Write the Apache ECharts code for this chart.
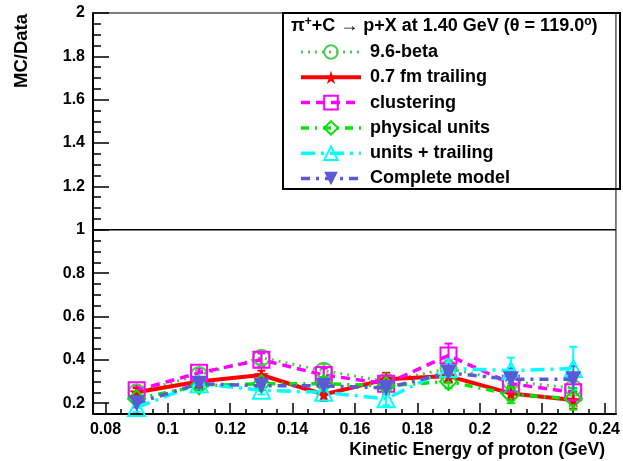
<!DOCTYPE html>
<html>
<head>
<meta charset="utf-8">
<script src="https://cdn.jsdelivr.net/npm/echarts@6/dist/echarts.min.js"></script>
<style>html,body{margin:0;padding:0;background:#fff}#c{width:623px;height:461px}</style>
</head>
<body>
<div id="c"></div>
<script>
// ---- data ----
var energies = [0.09, 0.11, 0.13, 0.15, 0.17, 0.19, 0.21, 0.23];
var beta96     = [0.25, 0.33, 0.41, 0.35, 0.30, 0.36, 0.30, 0.27];
var beta96Err  = [0.02, 0.02, 0.03, 0.03, 0.03, 0.04, 0.04, 0.05];
var trailing   = [0.25, 0.30, 0.33, 0.24, 0.31, 0.325, 0.245, 0.215];
var trailingErr= [0.02, 0.02, 0.02, 0.03, 0.03, 0.03, 0.03, 0.04];
var clustering = [0.26, 0.34, 0.40, 0.33, 0.29, 0.42, 0.29, 0.25];
var clusterErr = [0.02, 0.02, 0.03, 0.03, 0.03, 0.055, 0.04, 0.05];
var physUnits  = [0.22, 0.28, 0.29, 0.29, 0.28, 0.30, 0.24, 0.22];
var physErr    = [0.02, 0.02, 0.02, 0.03, 0.03, 0.03, 0.04, 0.05];
var unitsTrail = [0.18, 0.29, 0.26, 0.25, 0.22, 0.36, 0.35, 0.36];
var unitsErr   = [0.02, 0.02, 0.02, 0.03, 0.03, 0.04, 0.06, 0.10];
var complete   = [0.20, 0.29, 0.28, 0.28, 0.27, 0.34, 0.31, 0.31];
var completeErr= [0.02, 0.02, 0.02, 0.03, 0.03, 0.04, 0.05, 0.06];
var xMajor = [0.08, 0.10, 0.12, 0.14, 0.16, 0.18, 0.20, 0.22, 0.24];
var yMajor = [0.2, 0.4, 0.6, 0.8, 1.0, 1.2, 1.4, 1.6, 1.8, 2.0];
var xTitle = 'Kinetic Energy of proton (GeV)';
var yTitle = 'MC/Data';
var names = ['9.6-beta', '0.7 fm trailing', 'clustering', 'physical units', 'units + trailing', 'Complete model'];

var XMIN = 0.076, XMAX = 0.2437, YMIN = 0.15, YMAX = 2.0;
var xMinor = [], yMinor = [];
for (var i = 0; i <= 33; i++) { var v = +(0.08 + i * 0.005).toFixed(4); if (v <= XMAX) xMinor.push(v); }
for (var j = 0; j <= 37; j++) { var w = +(0.15 + j * 0.05).toFixed(4); if (w <= YMAX) yMinor.push(w); }

var FONT = '"Liberation Sans", Arial, Helvetica, sans-serif';
var star = 'path://M50,0 L61,35 L98,35 L68,57 L79,91 L50,70 L21,91 L32,57 L2,35 L39,35 Z';

function pts(ys) { return energies.map(function (x, k) { return [x, ys[k]]; }); }

function lineSeries(name, ys, color, dash, width, symbol, size, filled, z) {
  return {
    name: name, type: 'line', data: pts(ys), z: z,
    symbol: symbol, symbolSize: size, showSymbol: true,
    lineStyle: { color: color, width: width, type: dash },
    itemStyle: filled ? { color: color, borderColor: color, borderWidth: 0 }
                      : { color: 'rgba(255,255,255,0)', borderColor: color, borderWidth: 2 },
    emphasis: { disabled: true }, animation: false
  };
}
function errSeries(ys, es, color, z) {
  return {
    type: 'custom', z: z, animation: false, silent: true,
    data: energies.map(function (x, k) { return [x, ys[k], es[k]]; }),
    renderItem: function (params, api) {
      var x = api.value(0), y = api.value(1), e = api.value(2);
      var top = api.coord([x, y + e]), bot = api.coord([x, y - e]);
      var cap = 4;
      return { type: 'group', children: [
        { type: 'line', shape: { x1: top[0], y1: top[1], x2: bot[0], y2: bot[1] }, style: { stroke: color, lineWidth: 2 } },
        { type: 'line', shape: { x1: top[0] - cap, y1: top[1], x2: top[0] + cap, y2: top[1] }, style: { stroke: color, lineWidth: 2 } },
        { type: 'line', shape: { x1: bot[0] - cap, y1: bot[1], x2: bot[0] + cap, y2: bot[1] }, style: { stroke: color, lineWidth: 2 } }
      ]};
    }
  };
}

var cBeta = '#4dcc4d', cRed = '#ff0000', cMag = '#ff00ff', cGreen = '#00e600', cCyan = '#00ffff', cBlue = '#5a5ad8';
var widths = [3, 4, 3.5, 3.5, 3.5, 3.5];

var chart = echarts.init(document.getElementById('c'), null, { renderer: 'canvas' });
chart.setOption({
  animation: false,
  backgroundColor: '#fff',
  grid: { left: 93, right: 3, top: 13, bottom: 47, show: true, borderColor: '#000', borderWidth: 1, containLabel: false },
  xAxis: [
    { type: 'value', min: XMIN, max: XMAX, position: 'bottom',
      axisLine: { show: true, onZero: false, lineStyle: { color: '#000', width: 2 } },
      axisTick: { show: true, inside: true, length: 11, customValues: xMajor, lineStyle: { color: '#000', width: 1.5 } },
      axisLabel: { show: true, customValues: xMajor, margin: 8, color: '#000', fontFamily: FONT, fontWeight: 'bold', fontSize: 16,
        formatter: function (v) { return String(+(+v).toFixed(3)); } },
      splitLine: { show: false } },
    { type: 'value', min: XMIN, max: XMAX, position: 'bottom',
      axisLine: { show: false, onZero: false },
      axisTick: { show: true, inside: true, length: 5, customValues: xMinor, lineStyle: { color: '#000', width: 1.5 } },
      axisLabel: { show: false }, splitLine: { show: false } }
  ],
  yAxis: [
    { type: 'value', min: YMIN, max: YMAX, position: 'left',
      axisLine: { show: true, onZero: false, lineStyle: { color: '#000', width: 2 } },
      axisTick: { show: true, inside: true, length: 16, customValues: yMajor, lineStyle: { color: '#000', width: 1.5 } },
      axisLabel: { show: true, customValues: yMajor, margin: 8, color: '#000', fontFamily: FONT, fontWeight: 'bold', fontSize: 16,
        formatter: function (v) { return String(+(+v).toFixed(3)); } },
      splitLine: { show: false } },
    { type: 'value', min: YMIN, max: YMAX, position: 'left',
      axisLine: { show: false, onZero: false },
      axisTick: { show: true, inside: true, length: 8, customValues: yMinor, lineStyle: { color: '#000', width: 1.5 } },
      axisLabel: { show: false }, splitLine: { show: false } }
  ],
  legend: {
    data: names.map(function (n, k) { return { name: n, lineStyle: { width: widths[k] } }; }),
    orient: 'vertical', left: 294, top: 38,
    itemWidth: 60, itemHeight: 17, itemGap: 7.3,
    textStyle: { fontFamily: FONT, fontWeight: 'bold', fontSize: 18, color: '#000', padding: [0, 0, 0, 4] },
    selectedMode: false
  },
  series: [
    {
      type: 'line', data: [[XMIN, 1], [XMAX, 1]], symbol: 'none', z: 1, silent: true,
      lineStyle: { color: '#000', width: 1.5 }, animation: false
    },
    errSeries(beta96, beta96Err, cBeta, 2),
    lineSeries(names[0], beta96, cBeta, [2, 5], widths[0], 'circle', 16, false, 3),
    errSeries(trailing, trailingErr, cRed, 2),
    lineSeries(names[1], trailing, cRed, 'solid', widths[1], star, 15, true, 3),
    errSeries(clustering, clusterErr, cMag, 2),
    lineSeries(names[2], clustering, cMag, [9, 6], widths[2], 'rect', 16, false, 3),
    errSeries(physUnits, physErr, cGreen, 2),
    lineSeries(names[3], physUnits, cGreen, [8, 6, 2, 6], widths[3], 'diamond', 17, false, 3),
    errSeries(unitsTrail, unitsErr, cCyan, 2),
    lineSeries(names[4], unitsTrail, cCyan, [14, 6, 3, 6], widths[4], 'triangle', 17, false, 3),
    errSeries(complete, completeErr, cBlue, 2),
    lineSeries(names[5], complete, cBlue, [9, 6, 3, 6], widths[5], 'path://M0,0 L100,0 L50,90 Z', 16, true, 4)
  ],
  graphic: [
    { type: 'rect', shape: { x: 283, y: 13, width: 337, height: 176 }, style: { fill: 'rgba(0,0,0,0)', stroke: '#000', lineWidth: 2 }, z: 10, silent: true },
    { type: 'text', x: 291, y: 26, z: 11, silent: true,
      style: { text: '{n|π}{s|+}{n|+C }{a|→}{n| p+X at 1.40 GeV (θ = 119.0}{s|o}{n|)}',
        verticalAlign: 'middle', align: 'left',
        rich: {
          n: { fontFamily: FONT, fontWeight: 'bold', fontSize: 18, fill: '#000', verticalAlign: 'middle' },
          a: { fontFamily: FONT, fontWeight: 'normal', fontSize: 18, fill: '#000', verticalAlign: 'middle' },
          s: { fontFamily: FONT, fontWeight: 'bold', fontSize: 12, fill: '#000', verticalAlign: 'top', padding: [0, 0, 8, 0] }
        } } },
    { type: 'text', x: 605, y: 450, z: 11, silent: true,
      style: { text: xTitle, align: 'right', verticalAlign: 'middle', fontFamily: FONT, fontWeight: 'bold', fontSize: 17.5, fill: '#000' } },
    { type: 'text', x: 22, y: 14, rotation: Math.PI / 2, z: 11, silent: true,
      style: { text: yTitle, align: 'right', verticalAlign: 'middle', fontFamily: FONT, fontWeight: 'bold', fontSize: 18.5, fill: '#000' } }
  ]
});
</script>
</body>
</html>
